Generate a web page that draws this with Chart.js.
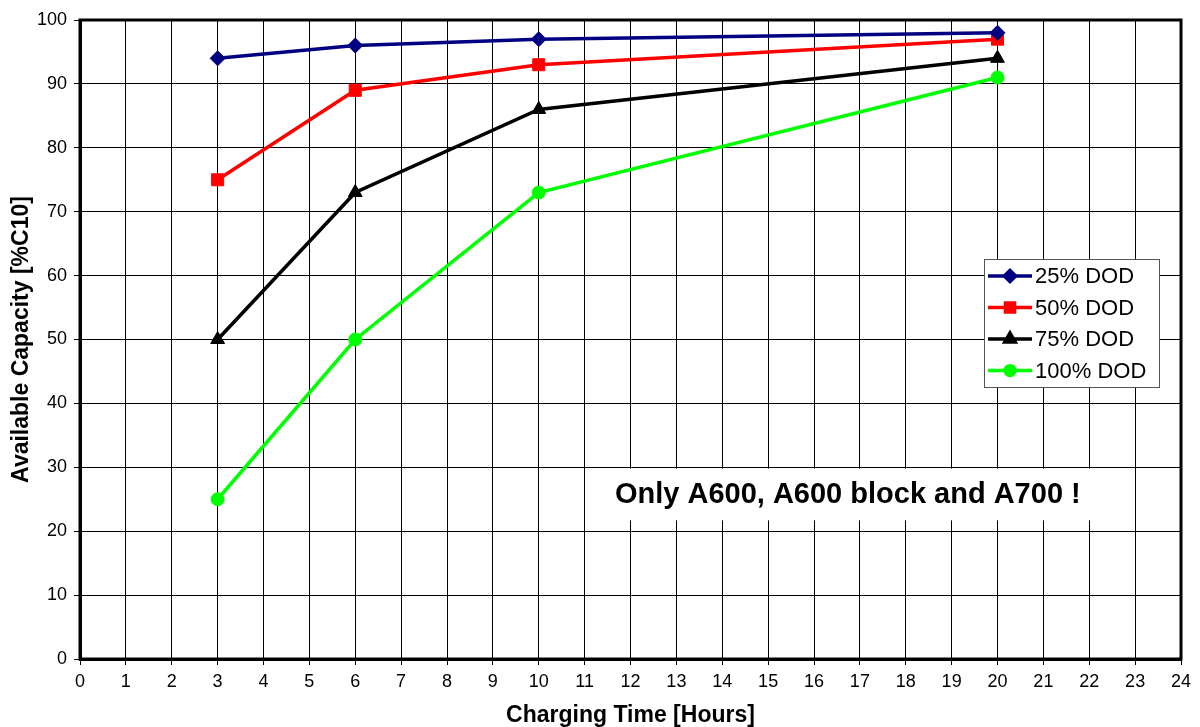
<!DOCTYPE html>
<html>
<head>
<meta charset="utf-8">
<script src="https://cdn.jsdelivr.net/npm/chart.js@4.4.1/dist/chart.umd.min.js"></script>
<style>
  html, body { margin: 0; padding: 0; background: #fff; }
  #wrap { width: 1200px; height: 727px; }
</style>
</head>
<body>
<div id="wrap"><canvas id="myChart" width="1200" height="727"></canvas></div>
<script>
// charging time in hours
const hours = [3, 6, 10, 20];
const dod25 = [94, 96, 97, 98];
const dod50 = [75, 89, 93, 97];
const dod75 = [50, 73, 86, 94];
const dod100 = [25, 50, 73, 91];
const seriesNames = ['25% DOD', '50% DOD', '75% DOD', '100% DOD'];
const noteText = 'Only A600, A600 block and A700 !';

function pts(vals) {
  return hours.map(function (h, i) { return { x: h, y: vals[i] }; });
}

function makeSet(label, vals, color, style, r) {
  return {
    label: label,
    data: pts(vals),
    borderColor: color,
    backgroundColor: color,
    borderWidth: 3.5,
    pointStyle: style,
    pointRadius: r,
    pointHoverRadius: r,
    pointBorderWidth: 1,
    pointBorderColor: color,
    pointBackgroundColor: color,
    tension: 0
  };
}

// frame, note box and legend drawn on top of the plot
const extras = {
  id: 'extras',
  beforeDatasetsDraw: function (chart) {
    const ctx = chart.ctx;
    const xs = chart.scales.x, ys = chart.scales.y;
    // white box behind the note
    const bx = xs.getPixelForValue(11.15), bx2 = xs.getPixelForValue(22.15);
    const by = ys.getPixelForValue(29.8), by2 = ys.getPixelForValue(21.7);
    ctx.save();
    ctx.fillStyle = '#fff';
    ctx.fillRect(bx, by, bx2 - bx, by2 - by);
    ctx.fillStyle = '#000';
    ctx.font = 'bold 29px "Liberation Sans", Arial, sans-serif';
    ctx.textAlign = 'center';
    ctx.textBaseline = 'middle';
    ctx.fillText(noteText, (bx + bx2) / 2 + 4, (by + by2) / 2 + 1);
    ctx.restore();
  },
  afterDatasetsDraw: function (chart) {
    const ctx = chart.ctx;
    const a = chart.chartArea;
    ctx.save();
    ctx.strokeStyle = '#000';
    ctx.lineWidth = 3;
    ctx.strokeRect(a.left, a.top, a.right - a.left, a.bottom - a.top);

    // legend box
    const lx = 984, ly = 259, lw = 175, lh = 128;
    ctx.fillStyle = '#fff';
    ctx.fillRect(lx, ly, lw, lh);
    ctx.strokeStyle = '#555';
    ctx.lineWidth = 1;
    ctx.strokeRect(lx + 0.5, ly + 0.5, lw, lh);
    ctx.font = '22px "Liberation Sans", Arial, sans-serif';
    ctx.textBaseline = 'middle';
    chart.data.datasets.forEach(function (ds, i) {
      const yy = ly + 17 + i * 31.5;
      ctx.strokeStyle = ds.borderColor;
      ctx.lineWidth = 3.5;
      ctx.beginPath();
      ctx.moveTo(lx + 4, yy);
      ctx.lineTo(lx + 48, yy);
      ctx.stroke();
      ctx.fillStyle = ds.borderColor;
      Chart.helpers.drawPoint(ctx, {
        pointStyle: ds.pointStyle, radius: ds.pointRadius * 0.75, borderWidth: 1, rotation: 0
      }, lx + 26, yy);
      ctx.fillStyle = '#000';
      ctx.fillText(ds.label, lx + 51, yy + 1);
    });
    ctx.restore();
  }
};

const fontFam = '"Liberation Sans", Arial, sans-serif';

new Chart(document.getElementById('myChart'), {
  type: 'line',
  data: {
    datasets: [
      makeSet(seriesNames[0], dod25, '#000080', 'rectRot', 7.5),
      makeSet(seriesNames[1], dod50, '#ff0000', 'rect', 8.5),
      makeSet(seriesNames[2], dod75, '#000000', 'triangle', 8),
      makeSet(seriesNames[3], dod100, '#00ff00', 'circle', 6.5)
    ]
  },
  options: {
    responsive: false,
    animation: false,
    layout: { padding: { top: 20, right: 19, left: 0, bottom: 0 } },
    plugins: {
      legend: { display: false },
      tooltip: { enabled: false }
    },
    scales: {
      x: {
        type: 'linear',
        min: 0,
        max: 24,
        afterFit: function (s) { s.height = 68; },
        ticks: {
          stepSize: 1,
          color: '#000',
          padding: 6,
          maxRotation: 0,
          autoSkip: false,
          font: { family: fontFam, size: 18 }
        },
        grid: { color: '#000', lineWidth: 1, tickLength: 6, drawTicks: true },
        border: { color: '#000', width: 3 },
        title: {
          display: true,
          text: 'Charging Time [Hours]',
          color: '#000',
          padding: { top: 0, bottom: 0 },
          font: { family: fontFam, size: 23, weight: 'bold', lineHeight: 1 }
        }
      },
      y: {
        min: 0,
        max: 100,
        afterFit: function (s) { s.width = 80; },
        ticks: {
          stepSize: 10,
          color: '#000',
          padding: 7,
          font: { family: fontFam, size: 18 }
        },
        grid: { color: '#000', lineWidth: 1, tickLength: 6, drawTicks: true },
        border: { color: '#000', width: 3 },
        title: {
          display: true,
          text: 'Available Capacity [%C10]',
          color: '#000',
          padding: { top: 10, bottom: 0 },
          font: { family: fontFam, size: 23, weight: 'bold', lineHeight: 1 }
        }
      }
    }
  },
  plugins: [extras]
});
</script>
</body>
</html>
